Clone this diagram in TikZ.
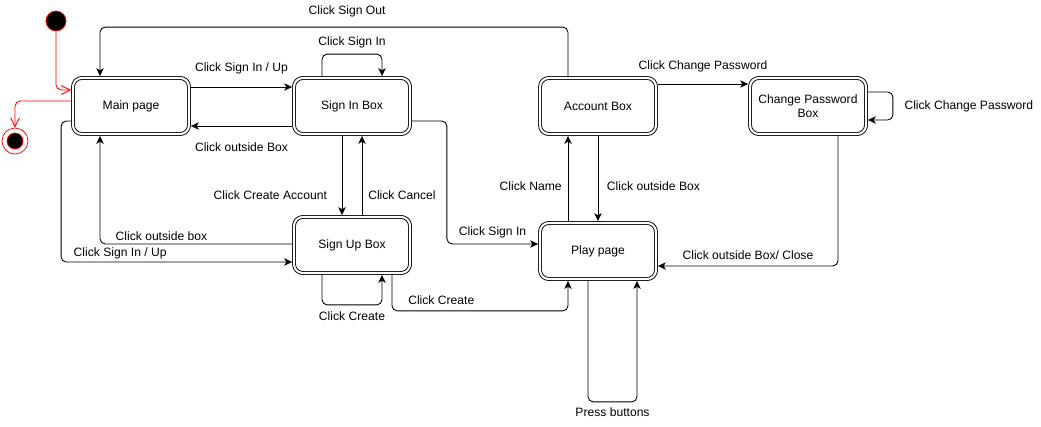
\documentclass[tikz,border=0pt]{standalone}
\usepackage{fontspec}
\setmainfont{Liberation Sans}
\usepackage{tikz}
\usetikzlibrary{arrows.meta,calc,positioning}
\tikzset{
  state/.style={draw, double, double distance=1.2pt, line width=0.5pt, rounded corners=5pt,
    minimum width=2.32cm, minimum height=1.12cm, outer sep=1.1pt, align=center, fill=white},
  trans/.style={-{Stealth[length=4.5pt,width=4.2pt,inset=1.2pt]}, rounded corners=3pt, line width=0.5pt},
  redtrans/.style={red, -{Straight Barb[length=5pt,width=5pt]}, rounded corners=3pt, line width=0.5pt}
}

\begin{document}
\begin{tikzpicture}[x=0.02cm, y=-0.02cm, font=\fontsize{6.9}{8.3}\selectfont]
\useasboundingbox (0,0) rectangle (1041,426);
% start and end
\node[circle, draw=red, fill=black, minimum size=0.4cm, inner sep=0pt] (start) at (56,21) {};
\node[circle, draw=red, fill=white, minimum size=0.52cm, inner sep=0pt] (end) at (15,141) {};
\filldraw[draw=red, fill=black] (end.center) circle (0.16cm);
% states
\node[state] (main) at (131,106) {Main page};
\node[state] (signin) at (352,106) {Sign In Box};
\node[state] (signup) at (352,245) {Sign Up Box};
\node[state] (acc) at (598,106) {Account Box};
\node[state] (cp) at (808,106) {Change Password\\Box};
\node[state] (play) at (598,251) {Play page};
% red ones
\draw[redtrans] (start) |- ($(main.west)+(0,-16)$);
\draw[redtrans] ($(main.west)+(0,-5)$) -| (end);
% transitions
\draw[trans] ($(acc.north)+(-30,0)$) -- ++(0,-49) -| node[above=2pt, pos=0.236] {Click Sign Out} ($(main.north)+(-31,0)$);
\draw[trans] ($(main.east)+(0,-19)$) -- node[above=4pt] {Click Sign In / Up} ($(signin.west)+(0,-19)$);
\draw[trans] ($(signin.west)+(0,20)$) -- node[below=6pt] {Click outside Box} ($(main.east)+(0,20)$);
\draw[trans] ($(signin.north)+(-30,0)$) -- ++(0,-22) -| node[above, pos=0.25] {Click Sign In} ($(signin.north)+(30,0)$);
\draw[trans] ($(signin.south)+(-10,0)$) -- node[left=5pt, pos=0.75] {Click Create Account} ($(signup.north)+(-10,0)$);
\draw[trans] ($(signup.north)+(10,0)$) -- node[right, pos=0.25] {Click Cancel} ($(signin.south)+(10,0)$);
\draw[trans] ($(signin.east)+(0,15)$) -- ++(35,0) |- node[above, pos=0.75] {Click Sign In} ($(play.west)+(0,-7)$);
\draw[trans] ($(signup.west)+(0,-1)$) -| node[above=-1.5pt, pos=0.34] {Click outside box} ($(main.south)+(-31,0)$);
\draw[trans] ($(main.west)+(0,15)$) -- ++(-10,0) |- node[above=-2pt, pos=0.628] {Click Sign In / Up} ($(signup.west)+(0,17)$);
\draw[trans] ($(signup.south)+(-30,0)$) -- ++(0,30) -| node[below, pos=0.25] {Click Create} ($(signup.south)+(30,0)$);
\draw[trans] ($(signup.south)+(40,0)$) -- ++(0,36) -| node[above, pos=0.14] {Click Create} ($(play.south)+(-30,0)$);
\draw[trans] ($(play.north)+(-30,0)$) -- node[left, pos=0.41] {Click Name} ($(acc.south)+(-30,0)$);
\draw[trans] (acc.south) -- node[right=1.5pt, pos=0.59] {Click outside Box} (play.north);
\draw[trans] ($(acc.east)+(0,-22)$) -- node[above=3pt] {Click Change Password} ($(cp.west)+(0,-22)$);
\draw[trans] ($(cp.east)+(0,-14)$) -- ++(25,0) |- node[right=3pt, pos=0.25] {Click Change Password} ($(cp.east)+(0,14)$);
\draw[trans] ($(cp.south)+(30,0)$) |- node[above, pos=0.75] {Click outside Box/ Close} ($(play.east)+(0,15)$);
\draw[trans] ($(play.south)+(-10,0)$) -- ++(0,121) -| node[below=-0.5pt, pos=0.25] {Press buttons} ($(play.south)+(39,0)$);
\end{tikzpicture}
\end{document}
